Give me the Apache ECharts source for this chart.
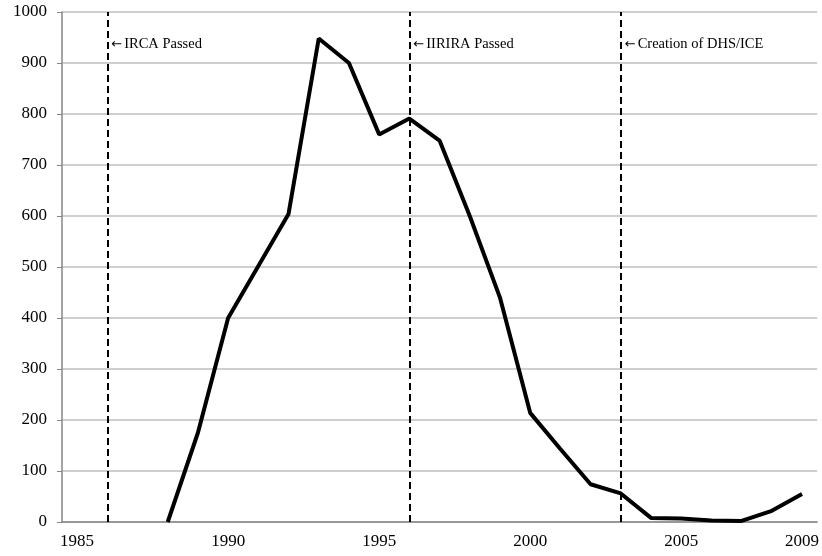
<!DOCTYPE html>
<html>
<head>
<meta charset="utf-8">
<script src="https://cdn.jsdelivr.net/npm/echarts@6/dist/echarts.min.js"></script>
<style>html,body{margin:0;padding:0;background:#fff;}#c{width:822px;height:556px;}</style>
</head>
<body>
<div id="c"></div>
<script>
var years = ['1985','1986','1987','1988','1989','1990','1991','1992','1993','1994','1995','1996','1997','1998','1999','2000','2001','2002','2003','2004','2005','2006','2007','2008','2009'];
var values = [null,null,null,0,175,400,502,604,948,900,760,791,748,600,440,214,143,74,56,8,7,3,2,22,55];
var shownLabels = ['1985','1990','1995','2000','2005','2009'];
var eventYears = ['1986','1996','2003'];
var eventNames = ['IRCA Passed','IIRIRA Passed','Creation of DHS/ICE'];
var eventLabelY = 937;

var font = 'Liberation Serif, Times New Roman, serif';
var chart = echarts.init(document.getElementById('c'));
chart.setOption({
  animation: false,
  grid: {left: 62, right: 4, top: 12, bottom: 34},
  xAxis: {
    type: 'category',
    data: years,
    boundaryGap: true,
    axisLine: {lineStyle: {color: '#868686', width: 1.5}},
    axisTick: {alignWithLabel: true, interval: 0, length: 4, lineStyle: {color: '#868686'}},
    axisLabel: {
      interval: function (i, v) { return shownLabels.indexOf(v) >= 0; },
      fontFamily: font, fontSize: 17, color: '#000', margin: 11
    },
    splitLine: {show: false}
  },
  yAxis: {
    type: 'value',
    min: 0, max: 1000, interval: 100,
    axisLine: {show: true, lineStyle: {color: '#868686', width: 1.5}},
    axisTick: {show: true, length: 5, lineStyle: {color: '#868686'}},
    axisLabel: {fontFamily: font, fontSize: 17, color: '#000', margin: 15,
      formatter: function (v) { return String(v); }},
    splitLine: {lineStyle: {color: '#bfbfbf', width: 1.5}}
  },
  series: [{
    type: 'line',
    data: values,
    symbol: 'none',
    connectNulls: false,
    lineStyle: {color: '#000', width: 4},
    markLine: {
      silent: true,
      symbol: 'none',
      label: {show: false},
      lineStyle: {color: '#000', type: [7, 4], width: 2},
      data: eventYears.map(function (y) { return {xAxis: y}; })
    },
    markPoint: {
      silent: true,
      symbol: 'circle',
      symbolSize: 0,
      label: {
        show: true,
        position: 'right',
        distance: 4,
        formatter: function (p) { return '{a|\u2190}{t|' + p.name + '}'; },
        rich: {
          a: {fontFamily: 'DejaVu Sans', fontSize: 13, color: '#000', padding: [0, 2, 0, 0]},
          t: {fontFamily: font, fontSize: 14.5, color: '#000'}
        }
      },
      data: eventYears.map(function (y, i) { return {name: eventNames[i], coord: [y, eventLabelY]}; })
    }
  }]
});
</script>
</body>
</html>
